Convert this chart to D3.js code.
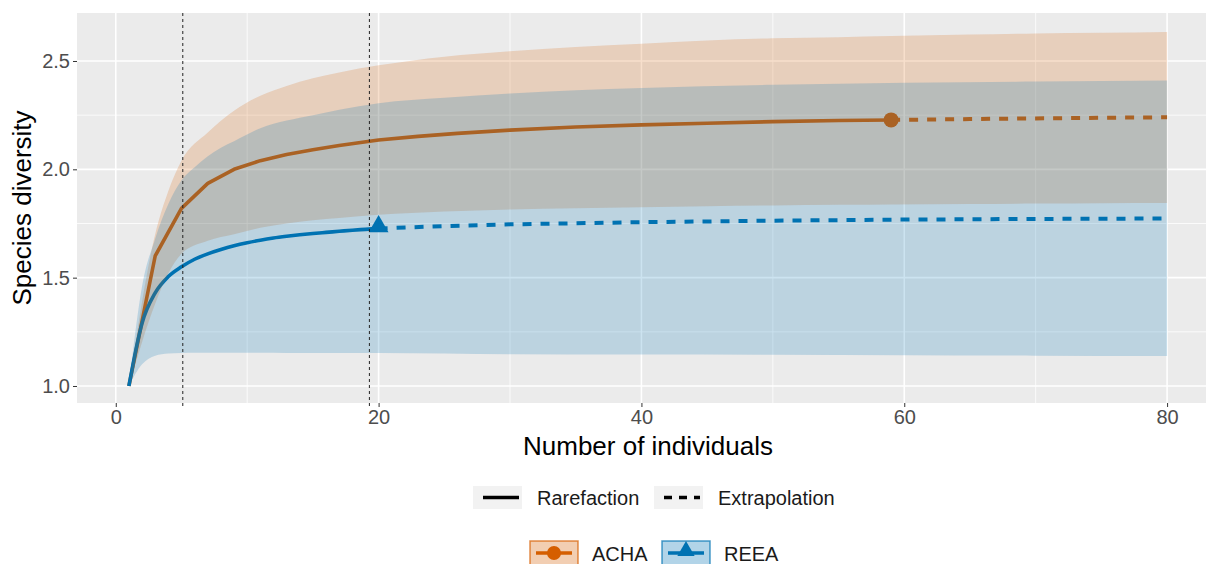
<!DOCTYPE html>
<html>
<head>
<meta charset="utf-8">
<script src="https://cdn.jsdelivr.net/npm/d3@7"></script>
<style>
  body { margin: 0; background: #fff; }
  text { font-family: "Liberation Sans", Arial, sans-serif; }
</style>
</head>
<body>
<div id="chart"></div>
<script>
// rarefaction (observed) curves
var achaX = [1, 3, 5, 7, 9, 11, 13, 15, 17, 20, 23, 26, 30, 35, 40, 45, 50, 55, 59];
var achaY = [1.00, 1.60, 1.82, 1.935, 2.00, 2.04, 2.068, 2.09, 2.11, 2.135, 2.152, 2.166, 2.181, 2.195, 2.205, 2.213, 2.220, 2.225, 2.228];
var reeaX = [1, 2, 3, 4, 5, 6, 7, 8, 9, 10, 11, 12, 13, 14, 15, 16, 17, 18, 19, 20];
var reeaY = [1.00, 1.29, 1.43, 1.505, 1.55, 1.585, 1.61, 1.63, 1.647, 1.661, 1.673, 1.683, 1.691, 1.698, 1.704, 1.709, 1.714, 1.719, 1.723, 1.727];

// extrapolation
var achaExtX = [59, 65, 70, 75, 80];
var achaExtY = [2.228, 2.232, 2.235, 2.238, 2.240];
var reeaExtX = [20, 25, 30, 40, 50, 60, 70, 80];
var reeaExtY = [1.727, 1.738, 1.746, 1.756, 1.763, 1.768, 1.771, 1.773];

// confidence bands
var achaBandX = [1, 3, 4, 5, 7, 9, 11, 13, 15, 17, 20, 25, 30, 35, 40, 45, 50, 55, 59, 65, 70, 75, 80];
var achaLow = [1.0, 1.38, 1.52, 1.61, 1.67, 1.70, 1.73, 1.75, 1.765, 1.775, 1.79, 1.805, 1.815, 1.82, 1.825, 1.83, 1.833, 1.836, 1.838, 1.84, 1.842, 1.844, 1.845];
var achaUp = [1.0, 1.70, 1.90, 2.04, 2.17, 2.27, 2.34, 2.385, 2.42, 2.447, 2.48, 2.52, 2.545, 2.565, 2.58, 2.595, 2.605, 2.61, 2.615, 2.622, 2.627, 2.63, 2.634];
var reeaBandX = [1, 2, 3, 4, 5, 6, 7, 8, 9, 11, 13, 15, 17, 20, 25, 30, 40, 50, 60, 70, 80];
var reeaLow = [1.0, 1.10, 1.14, 1.15, 1.152, 1.153, 1.153, 1.153, 1.153, 1.153, 1.152, 1.152, 1.152, 1.152, 1.150, 1.146, 1.145, 1.144, 1.142, 1.14, 1.138];
var reeaUp = [1.0, 1.46, 1.68, 1.84, 1.95, 2.01, 2.06, 2.10, 2.13, 2.19, 2.225, 2.25, 2.275, 2.305, 2.33, 2.35, 2.375, 2.39, 2.40, 2.405, 2.41];

var vlines = [5.1, 19.3];
var xTicks = [0, 20, 40, 60, 80];
var xMinor = [10, 30, 50, 70];
var yTicks = [1.0, 1.5, 2.0, 2.5];
var yMinor = [1.25, 1.75, 2.25];
var groups = ["ACHA", "REEA"];
var methods = ["Rarefaction", "Extrapolation"];

var width = 1206, height = 564;
var orange = "#D55E00", blue = "#0072B2";

var svg = d3.select("#chart").append("svg")
    .attr("width", width).attr("height", height);

var x = d3.scaleLinear().domain([-2.95, 83.95]).range([77, 1219]);
var y = d3.scaleLinear().domain([0.9215, 2.7215]).range([403, 13]);

// panel
svg.append("rect").attr("x", 77).attr("y", 13)
    .attr("width", 1219 - 77).attr("height", 390).attr("fill", "#EBEBEB");

var grid = svg.append("g");
grid.selectAll(".ymin").data(yMinor).enter().append("line")
    .attr("x1", 77).attr("x2", 1219)
    .attr("y1", function (d) { return y(d); }).attr("y2", function (d) { return y(d); })
    .attr("stroke", "#fff").attr("stroke-width", 0.8);
grid.selectAll(".xmin").data(xMinor).enter().append("line")
    .attr("y1", 13).attr("y2", 403)
    .attr("x1", function (d) { return x(d); }).attr("x2", function (d) { return x(d); })
    .attr("stroke", "#fff").attr("stroke-width", 0.8);
grid.selectAll(".ymaj").data(yTicks).enter().append("line")
    .attr("x1", 77).attr("x2", 1219)
    .attr("y1", function (d) { return y(d); }).attr("y2", function (d) { return y(d); })
    .attr("stroke", "#fff").attr("stroke-width", 1.6);
grid.selectAll(".xmaj").data(xTicks).enter().append("line")
    .attr("y1", 13).attr("y2", 403)
    .attr("x1", function (d) { return x(d); }).attr("x2", function (d) { return x(d); })
    .attr("stroke", "#fff").attr("stroke-width", 1.6);

function zip(xs, ys) {
    return xs.map(function (v, i) { return [v, ys[i]]; });
}

var line = d3.line()
    .x(function (d) { return x(d[0]); })
    .y(function (d) { return y(d[1]); });
var smooth = d3.line()
    .x(function (d) { return x(d[0]); })
    .y(function (d) { return y(d[1]); })
    .curve(d3.curveMonotoneX);

// lines and end points
var curves = [
    {obs: zip(achaX, achaY), ext: zip(achaExtX, achaExtY), col: orange, gen: line},
    {obs: zip(reeaX, reeaY), ext: zip(reeaExtX, reeaExtY), col: blue, gen: smooth}
];
curves.forEach(function (c) {
    svg.append("path").datum(c.obs).attr("d", c.gen)
        .attr("fill", "none").attr("stroke", c.col).attr("stroke-width", 3.6)
        .attr("stroke-linejoin", "round");
    svg.append("path").datum(c.ext).attr("d", line)
        .attr("fill", "none").attr("stroke", c.col).attr("stroke-width", 4)
        .attr("stroke-dasharray", "9,9");
});

var aEnd = [achaX[achaX.length - 1], achaY[achaY.length - 1]];
svg.append("circle").attr("cx", x(aEnd[0])).attr("cy", y(aEnd[1]))
    .attr("r", 7.5).attr("fill", orange);
var rEnd = [reeaX[reeaX.length - 1], reeaY[reeaY.length - 1]];
svg.append("path")
    .attr("d", d3.symbol().type(d3.symbolTriangle).size(170))
    .attr("transform", "translate(" + x(rEnd[0]) + "," + (y(rEnd[1]) - 2) + ")")
    .attr("fill", blue);

// ribbons on top
var area = d3.area()
    .x(function (d) { return x(d[0]); })
    .y0(function (d) { return y(d[1]); })
    .y1(function (d) { return y(d[2]); })
    .curve(d3.curveMonotoneX);
var bands = [
    {d: achaBandX.map(function (v, i) { return [v, achaLow[i], achaUp[i]]; }), col: orange},
    {d: reeaBandX.map(function (v, i) { return [v, reeaLow[i], reeaUp[i]]; }), col: blue}
];
bands.forEach(function (b) {
    svg.append("path").datum(b.d).attr("d", area)
        .attr("fill", b.col).attr("fill-opacity", 0.2);
});

// dashed reference lines
svg.selectAll(".vl").data(vlines).enter().append("line")
    .attr("x1", function (d) { return x(d); }).attr("x2", function (d) { return x(d); })
    .attr("y1", 13).attr("y2", 408)
    .attr("stroke", "#222").attr("stroke-width", 1)
    .attr("stroke-dasharray", "3,3");

// axes
var xAxis = d3.axisBottom(x).tickValues(xTicks).tickSize(4).tickPadding(3)
    .tickFormat(d3.format("d"));
var gx = svg.append("g").attr("transform", "translate(0,403)").call(xAxis);
var yAxis = d3.axisLeft(y).tickValues(yTicks).tickSize(4).tickPadding(3)
    .tickFormat(d3.format(".1f"));
var gy = svg.append("g").attr("transform", "translate(77,0)").call(yAxis);
[gx, gy].forEach(function (g) {
    g.select(".domain").remove();
    g.selectAll("line").attr("stroke", "#333");
    g.selectAll("text").attr("fill", "#4D4D4D").style("font-size", "20px")
        .style("font-family", "'Liberation Sans', Arial, sans-serif");
});

svg.append("text").attr("x", (77 + 1219) / 2).attr("y", 455)
    .attr("text-anchor", "middle").style("font-size", "26px").attr("fill", "#000")
    .text("Number of individuals");
svg.append("text").attr("transform", "translate(31,208) rotate(-90)")
    .attr("text-anchor", "middle").style("font-size", "26px").attr("fill", "#000")
    .text("Species diversity");

// legend: line type
var lg1 = svg.append("g");
methods.forEach(function (m, i) {
    var kx = i === 0 ? 473 : 654;
    lg1.append("rect").attr("x", kx).attr("y", 486).attr("width", 49).attr("height", 23)
        .attr("fill", "#F2F2F2");
    lg1.append("line").attr("x1", kx + 10).attr("x2", kx + 46)
        .attr("y1", 497.5).attr("y2", 497.5)
        .attr("stroke", "#000").attr("stroke-width", 3.5)
        .attr("stroke-dasharray", i === 0 ? null : "8,7");
    lg1.append("text").attr("x", kx + 64).attr("y", 505)
        .style("font-size", "20px").attr("fill", "#1a1a1a").text(m);
});

// legend: groups
var lg2 = svg.append("g");
groups.forEach(function (g, i) {
    var kx = i === 0 ? 530 : 662;
    var col = i === 0 ? orange : blue;
    lg2.append("rect").attr("x", kx).attr("y", 541).attr("width", 48).attr("height", 26)
        .attr("fill", col).attr("fill-opacity", 0.3)
        .attr("stroke", col).attr("stroke-opacity", 0.7).attr("stroke-width", 1.5);
    lg2.append("line").attr("x1", kx + 6).attr("x2", kx + 42)
        .attr("y1", 553).attr("y2", 553)
        .attr("stroke", col).attr("stroke-width", 3.5);
    if (i === 0) {
        lg2.append("circle").attr("cx", kx + 24).attr("cy", 553).attr("r", 7).attr("fill", col);
    } else {
        lg2.append("path").attr("d", d3.symbol().type(d3.symbolTriangle).size(130))
            .attr("transform", "translate(" + (kx + 24) + ",551)").attr("fill", col);
    }
    lg2.append("text").attr("x", kx + 62).attr("y", 561)
        .style("font-size", "20px").attr("fill", "#1a1a1a").text(g);
});
</script>
</body>
</html>
